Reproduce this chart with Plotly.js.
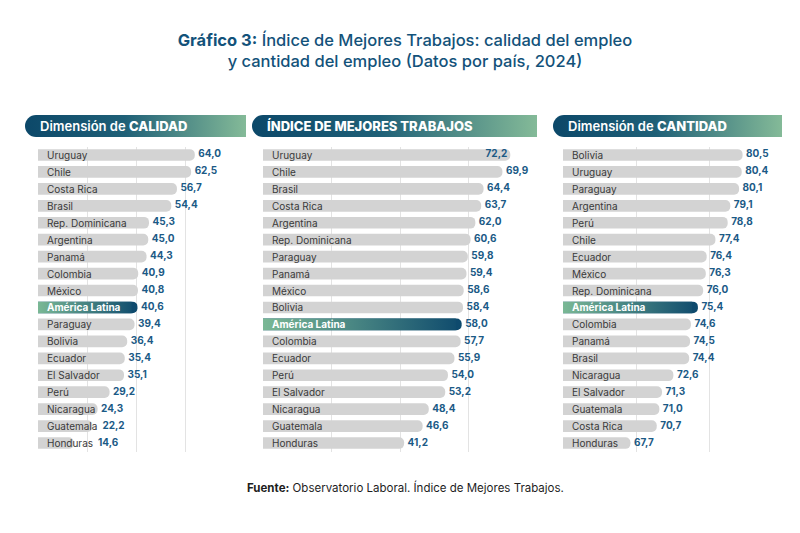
<!DOCTYPE html>
<html>
<head>
<meta charset="utf-8">
<script src="https://cdn.plot.ly/plotly-3.0.1.min.js"></script>
<style>
  html, body { margin: 0; padding: 0; background: #fff; }
  #chart { width: 800px; height: 533px; }
</style>
</head>
<body>
<div id="chart"></div>
<script>
// datos por dimension
const calidadPaises = ['Uruguay', 'Chile', 'Costa Rica', 'Brasil', 'Rep. Dominicana', 'Argentina', 'Panamá', 'Colombia', 'México',
  'América Latina', 'Paraguay', 'Bolivia', 'Ecuador', 'El Salvador', 'Perú', 'Nicaragua', 'Guatemala', 'Honduras']
const calidadValores = [64.0, 62.5, 56.7, 54.4, 45.3, 45.0, 44.3, 40.9, 40.8, 40.6, 39.4, 36.4, 35.4, 35.1, 29.2, 24.3, 22.2, 14.6]

const indicePaises = ['Uruguay', 'Chile', 'Brasil', 'Costa Rica', 'Argentina', 'Rep. Dominicana', 'Paraguay', 'Panamá', 'México',
  'Bolivia', 'América Latina', 'Colombia', 'Ecuador', 'Perú', 'El Salvador', 'Nicaragua', 'Guatemala', 'Honduras']
const indiceValores = [72.2, 69.9, 64.4, 63.7, 62.0, 60.6, 59.8, 59.4, 58.6, 58.4, 58.0, 57.7, 55.9, 54.0, 53.2, 48.4, 46.6, 41.2]

const cantidadPaises = ['Bolivia', 'Uruguay', 'Paraguay', 'Argentina', 'Perú', 'Chile', 'Ecuador', 'México', 'Rep. Dominicana',
  'América Latina', 'Colombia', 'Panamá', 'Brasil', 'Nicaragua', 'El Salvador', 'Guatemala', 'Costa Rica', 'Honduras']
const cantidadValores = [80.5, 80.4, 80.1, 79.1, 78.8, 77.4, 76.4, 76.3, 76.0, 75.4, 74.6, 74.5, 74.4, 72.6, 71.3, 71.0, 70.7, 67.7]

const REGION = 'América Latina'

const W = 800, H = 533
const px = v => v / W
const py = v => 1 - v / H

const FONT = 'Inter, "Noto Sans", Arial, sans-serif'
const GRIS = '#d3d3d3'
const AZUL = '#0e4a6d'
const VERDE = '#7ab895'
const COLOR_VALOR = '#1b5a86'
const COLOR_PAIS = '#3a3a3a'
const LABEL_SIZE = 10

// area de las barras (px)
const plotTop = 146.5, plotBottom = 451.5
const nRows = 18
const rowPx = (plotBottom - plotTop) / nRows
const barWidth = 0.69
const nameShift = 7

const panels = [
  {
    paises: calidadPaises, valores: calidadValores,
    titulo: 'Dimensión de <span style="font-weight:800">CALIDAD</span>',
    x0: 38, x1: 234, range: [0, 80], grid: [20, 40, 60, 80],
    head: [25, 246], dentro: [],
  },
  {
    paises: indicePaises, valores: indiceValores,
    titulo: '<span style="font-weight:800">ÍNDICE DE MEJORES TRABAJOS</span>',
    x0: 263, x1: 537, range: [0, 80], grid: [20, 40, 60, 80],
    head: [252, 537], dentro: ['Uruguay'],
  },
  {
    paises: cantidadPaises, valores: cantidadValores,
    titulo: 'Dimensión de <span style="font-weight:800">CANTIDAD</span>',
    x0: 563, x1: 782, range: [60, 85], grid: [68.333, 76.667, 85],
    head: [553, 782], dentro: [],
  },
]

const fmt = v => v.toFixed(1).replace('.', ',')

// ancho de los nombres, para que el valor no los pise en barras cortas
const ctx = document.createElement('canvas').getContext('2d')
function textWidth(s, bold) {
  ctx.font = (bold ? '700 ' : '400 ') + LABEL_SIZE + 'px Inter'
  return ctx.measureText(s).width
}

function headerImage(w, h) {
  const r = h / 2
  const svg = `<svg xmlns="http://www.w3.org/2000/svg" width="${w}" height="${h}" viewBox="0 0 ${w} ${h}">` +
    `<defs><linearGradient id="g" x1="0" y1="0" x2="1" y2="0">` +
    `<stop offset="0" stop-color="#0c4869"/><stop offset="0.45" stop-color="#1f6077"/><stop offset="1" stop-color="#84ba98"/>` +
    `</linearGradient></defs>` +
    `<path d="M${r},0 H${w} V${h} H${r} A${r},${r} 0 0 1 ${r},0 Z" fill="url(#g)"/></svg>`
  return 'data:image/svg+xml;charset=utf-8,' + encodeURIComponent(svg)
}

const data = []
const annotations = []
const images = []

const layout = {
  width: W,
  height: H,
  margin: {l: 0, r: 0, t: 0, b: 0},
  paper_bgcolor: '#fff',
  plot_bgcolor: 'rgba(0,0,0,0)',
  showlegend: false,
  hovermode: false,
  font: {family: FONT},
  title: {
    text: '<b>Gráfico 3:</b> Índice de Mejores Trabajos: calidad del empleo<br>y cantidad del empleo (Datos por país, 2024)',
    x: px(405), xanchor: 'center',
    y: py(46), yanchor: 'top',
    font: {family: FONT, size: 16.5, color: '#13527a', weight: 500},
  },
  yaxis: {
    domain: [py(plotBottom), py(plotTop)],
    range: [nRows - 0.5, -0.5],
    visible: false,
    showgrid: false,
    zeroline: false,
    fixedrange: true,
  },
}

panels.forEach((p, i) => {
  const suffix = i === 0 ? '' : String(i + 1)
  const xa = 'x' + suffix
  const rows = p.paises.map((_, k) => k)
  const pxPerUnit = (p.x1 - p.x0) / (p.range[1] - p.range[0])

  layout['xaxis' + suffix] = {
    domain: [px(p.x0), px(p.x1)],
    range: p.range,
    tickvals: p.grid,
    showticklabels: false,
    ticks: '',
    showgrid: true,
    gridcolor: '#e3e3e3',
    gridwidth: 1,
    zeroline: false,
    showline: false,
    anchor: 'y',
    fixedrange: true,
  }

  data.push({
    type: 'bar',
    orientation: 'h',
    x: p.valores,
    y: rows,
    xaxis: xa,
    yaxis: 'y',
    width: barWidth,
    marker: {
      color: p.paises.map(c => c === REGION ? AZUL : GRIS),
      cornerradius: '50%',
      line: {width: 0},
    },
    hoverinfo: 'skip',
  })

  // degradado de la barra regional (el extremo redondeado lo pone la barra)
  const k = p.paises.indexOf(REGION)
  const v = p.valores[k]
  const cap = (barWidth / 2 * rowPx) / pxPerUnit
  data.push({
    type: 'scatter',
    mode: 'lines',
    x: [v - cap, v - cap],
    y: [k - barWidth / 2, k + barWidth / 2],
    xaxis: xa,
    yaxis: 'y',
    fill: 'tozerox',
    line: {width: 0, color: 'rgba(0,0,0,0)'},
    fillgradient: {
      type: 'horizontal',
      start: p.range[0],
      stop: v,
      colorscale: [[0, VERDE], [1, AZUL]],
    },
    hoverinfo: 'skip',
  })

  // posicion de las etiquetas de valor: tras la barra, o tras el nombre si la barra es corta
  const labelX = p.valores.map((val, j) => {
    if (p.dentro.includes(p.paises[j])) return val - 3 / pxPerUnit
    const barEnd = (val - p.range[0]) * pxPerUnit + 3.5
    const nameEnd = nameShift + 1 + textWidth(p.paises[j], p.paises[j] === REGION) + 6
    return p.range[0] + Math.max(barEnd, nameEnd) / pxPerUnit
  })

  data.push({
    type: 'scatter',
    mode: 'text',
    x: labelX,
    y: rows,
    xaxis: xa,
    yaxis: 'y',
    text: p.valores.map(fmt),
    textposition: p.paises.map(c => p.dentro.includes(c) ? 'middle left' : 'middle right'),
    textfont: {family: FONT, size: LABEL_SIZE, color: COLOR_VALOR, weight: 700},
    cliponaxis: false,
    hoverinfo: 'skip',
  })

  p.paises.forEach((c, j) => {
    annotations.push({
      xref: xa, yref: 'y',
      x: p.range[0], y: j,
      xanchor: 'left', yanchor: 'middle',
      xshift: nameShift,
      text: c === REGION ? '<b>' + c + '</b>' : c,
      showarrow: false,
      font: {family: FONT, size: LABEL_SIZE, color: c === REGION ? '#ffffff' : COLOR_PAIS},
    })
  })

  // cabecera
  const hTop = 115, hH = 22
  const hw = p.head[1] - p.head[0]
  images.push({
    source: headerImage(hw, hH),
    xref: 'paper', yref: 'paper',
    x: px(p.head[0]), y: py(hTop),
    sizex: hw / W, sizey: hH / H,
    xanchor: 'left', yanchor: 'top',
    sizing: 'stretch',
    layer: 'below',
  })
  annotations.push({
    xref: 'paper', yref: 'paper',
    x: px(p.head[0] + 13), y: py(hTop + hH / 2),
    xanchor: 'left', yanchor: 'middle',
    text: p.titulo,
    showarrow: false,
    font: {family: FONT, size: 13, color: '#ffffff', weight: 600},
  })
})

annotations.push({
  xref: 'paper', yref: 'paper',
  x: px(405), y: py(487),
  xanchor: 'center', yanchor: 'middle',
  text: '<b>Fuente:</b> Observatorio Laboral. Índice de Mejores Trabajos.',
  showarrow: false,
  font: {family: FONT, size: 11.5, color: '#1e1e1e'},
})

layout.annotations = annotations
layout.images = images

Plotly.newPlot('chart', data, layout, {staticPlot: true, displayModeBar: false})
</script>
</body>
</html>
